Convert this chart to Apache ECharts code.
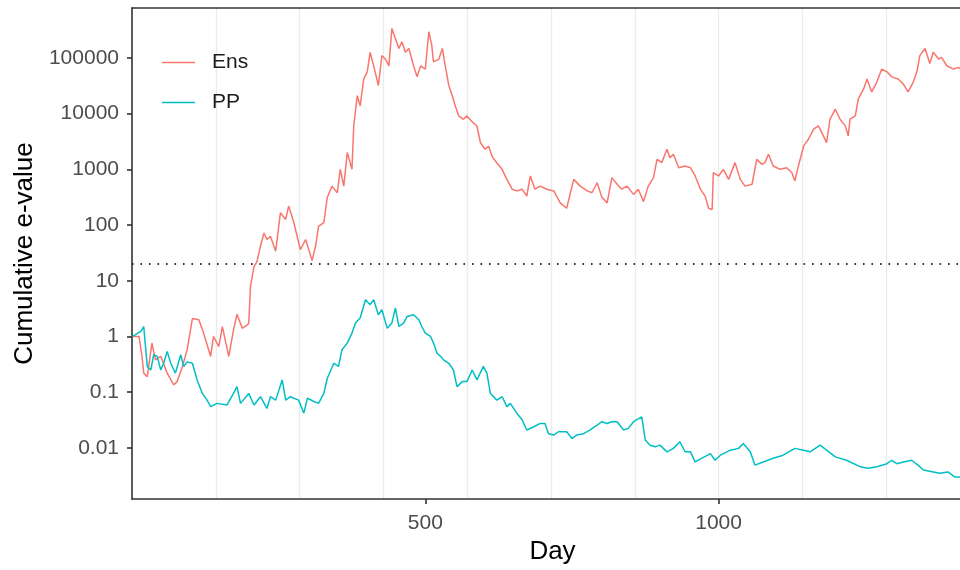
<!DOCTYPE html>
<html>
<head>
<meta charset="utf-8">
<script src="https://cdn.jsdelivr.net/npm/echarts@6/dist/echarts.min.js"></script>
<style>
html,body{margin:0;padding:0;background:#fff;}
#chart{width:960px;height:570px;}
</style>
</head>
<body>
<div id="chart"></div>
<script>
// ---- data ----
const seriesNames = ['Ens', 'PP'];

const ensDays = [1,12,17,20,26,34,40,49,60,71,77,86,94,103,114,122,134,139,148,154,165,173,179,188,199,202,208,213,219,225,230,236,245,253,262,267,276,287,296,307,313,318,327,333,341,350,355,361,367,375,378,384,389,395,401,406,412,420,426,432,438,443,449,455,460,466,472,480,486,492,500,506,511,514,523,529,534,540,546,551,557,565,571,580,588,594,602,608,614,622,631,639,648,656,665,673,679,687,696,707,719,730,741,753,764,776,784,793,801,810,818,827,835,844,855,863,872,880,889,895,903,912,917,923,932,943,952,960,969,977,983,989,991,1000,1008,1017,1028,1037,1045,1057,1065,1074,1079,1085,1093,1105,1116,1125,1130,1136,1145,1153,1162,1170,1176,1184,1190,1199,1207,1216,1221,1224,1233,1238,1247,1253,1261,1270,1278,1287,1295,1306,1315,1323,1332,1338,1343,1352,1360,1366,1375,1380,1389,1400,1409,1412];
const ensValues = [1,1,0.44,0.22,0.19,0.76,0.38,0.44,0.22,0.135,0.155,0.29,0.58,2.1,2.0,1.15,0.44,1.0,0.66,1.5,0.44,1.3,2.5,1.4,1.7,8,18,22,42,72,55,63,34,166,126,219,110,36,55,23,42,95,110,316,500,380,1000,500,2000,1000,6000,21000,13800,42000,56000,126000,72000,32000,110000,95000,72000,339000,224000,148000,195000,126000,148000,72000,46000,72000,63000,295000,170000,85000,95000,148000,72000,32000,21000,13800,9100,7900,9100,7100,6000,3000,2300,2600,1700,1300,1000,660,440,410,440,330,760,440,500,440,410,250,200,660,500,410,380,575,316,250,710,540,440,500,355,440,263,500,710,1510,1320,2290,1620,1860,1070,1150,1070,760,440,330,200,190,870,760,1000,660,1320,660,500,540,1510,1230,1320,1860,1150,1000,1070,870,620,1150,2630,3470,5250,6030,4570,3020,7940,12000,7940,6030,3980,7940,9120,18200,27500,41700,24500,37200,63100,56200,45700,41700,33900,24500,37200,56200,110000,148000,79400,126000,95500,102000,72400,63100,67600,63100];

const ppDays = [1,15,20,26,32,37,43,49,54,60,66,74,83,88,94,103,111,120,128,134,145,162,173,179,185,199,208,219,230,236,245,256,262,270,284,293,299,310,318,327,333,344,352,358,367,375,381,389,398,406,412,420,426,435,443,449,455,463,469,480,489,494,500,509,514,520,526,531,540,548,554,563,571,580,588,599,605,611,622,631,639,645,656,665,673,685,696,704,710,719,727,741,750,758,770,781,793,801,810,818,827,838,846,855,869,875,883,892,900,912,923,934,943,952,960,971,986,994,1003,1020,1034,1042,1054,1062,1076,1093,1110,1130,1145,1156,1173,1184,1199,1218,1241,1255,1270,1287,1295,1304,1315,1329,1340,1349,1366,1377,1391,1403,1412];
const ppValues = [1,1.23,1.5,0.29,0.25,0.47,0.44,0.25,0.33,0.54,0.33,0.22,0.47,0.29,0.35,0.33,0.166,0.095,0.072,0.055,0.063,0.059,0.095,0.126,0.063,0.095,0.059,0.083,0.051,0.083,0.072,0.166,0.072,0.083,0.072,0.042,0.078,0.068,0.063,0.095,0.178,0.33,0.29,0.58,0.76,1.15,1.74,2.14,4.57,3.72,4.57,2.45,3.02,1.41,1.74,3.24,1.51,1.74,2.29,2.45,2.0,1.51,1.15,1.0,0.76,0.5,0.44,0.38,0.33,0.25,0.126,0.155,0.155,0.25,0.166,0.29,0.22,0.095,0.072,0.083,0.055,0.063,0.042,0.032,0.021,0.024,0.0275,0.0275,0.018,0.017,0.0195,0.0195,0.0148,0.017,0.018,0.021,0.0257,0.0295,0.0275,0.0295,0.0295,0.021,0.0224,0.0295,0.036,0.0138,0.0112,0.0105,0.0112,0.0085,0.0098,0.0129,0.0085,0.0085,0.0056,0.0065,0.0079,0.006,0.0074,0.0091,0.0098,0.012,0.0085,0.0049,0.0056,0.0065,0.0074,0.0098,0.0091,0.0085,0.0112,0.0091,0.0069,0.006,0.0046,0.0043,0.0046,0.0052,0.006,0.0052,0.0056,0.006,0.0049,0.004,0.0037,0.0035,0.0037,0.003,0.003];

const xTickValues = [500, 1000];
const yTickValues = [0.01, 0.1, 1, 10, 100, 1000, 10000, 100000];
const threshold = 20;
const xMin = 0, xMax = 1411.5;
const yMin = 0.00121, yMax = 787000;
const gridStep = 1000 / 7;

// ---- chart ----
const FONT = "'Liberation Sans', Arial, sans-serif";
const chart = echarts.init(document.getElementById('chart'), null, {renderer: 'canvas'});
const zip = (xs, ys) => xs.map((x, i) => [x, ys[i]]);

chart.setOption({
  animation: false,
  backgroundColor: '#ffffff',
  textStyle: {fontFamily: FONT},
  grid: {left: 132, top: 8, right: 0, bottom: 69, containLabel: false},
  legend: {
    orient: 'vertical',
    left: 157,
    top: 47,
    icon: 'rect',
    itemWidth: 33,
    itemHeight: 1.6,
    itemGap: 19,
    data: seriesNames,
    textStyle: {fontFamily: FONT, fontSize: 21, color: '#1a1a1a', padding: [0, 0, 0, 12]}
  },
  xAxis: [
    {
      type: 'value', min: xMin, max: xMax, position: 'bottom',
      name: 'Day', nameLocation: 'middle', nameGap: 40,
      nameTextStyle: {fontFamily: FONT, fontSize: 26, color: '#000', padding: [0, 0, 0, 13]},
      axisLine: {show: true, onZero: false, lineStyle: {color: '#333333', width: 1.6}},
      axisTick: {show: true, length: 5, customValues: xTickValues, lineStyle: {color: '#333333', width: 1.6}},
      axisLabel: {show: true, customValues: xTickValues, margin: 14, fontFamily: FONT, fontSize: 21, color: '#4d4d4d',
        formatter: v => String(v)},
      splitLine: {show: false}
    },
    {
      type: 'value', min: xMin, max: xMax, interval: gridStep, position: 'top',
      axisLine: {show: true, onZero: false, lineStyle: {color: '#333333', width: 1.6}},
      axisTick: {show: false},
      axisLabel: {show: false},
      splitLine: {show: true, showMinLine: false, showMaxLine: false, lineStyle: {color: '#ebebeb', width: 1.3}}
    }
  ],
  yAxis: {
    type: 'log', logBase: 10, min: yMin, max: yMax,
    name: 'Cumulative e-value', nameLocation: 'middle', nameGap: 92,
    nameTextStyle: {fontFamily: FONT, fontSize: 26, color: '#000'},
    axisLine: {show: true, onZero: false, lineStyle: {color: '#333333', width: 1.6}},
    axisTick: {show: true, length: 5, customValues: yTickValues, lineStyle: {color: '#333333', width: 1.6}},
    axisLabel: {show: true, customValues: yTickValues, margin: 13, fontFamily: FONT, fontSize: 21, color: '#4d4d4d',
      formatter: v => String(v)},
    splitLine: {show: false}
  },
  series: [
    {
      name: 'Ens', type: 'line', xAxisIndex: 0, yAxisIndex: 0,
      data: zip(ensDays, ensValues),
      symbol: 'none', showSymbol: false,
      lineStyle: {color: '#F8766D', width: 1.5},
      itemStyle: {color: '#F8766D'},
      silent: true,
      markLine: {
        silent: true, symbol: ['none', 'none'], label: {show: false},
        lineStyle: {color: '#333333', type: [1.6, 6.9], width: 1.8},
        data: [{yAxis: threshold}]
      }
    },
    {
      name: 'PP', type: 'line', xAxisIndex: 0, yAxisIndex: 0,
      data: zip(ppDays, ppValues),
      symbol: 'none', showSymbol: false,
      lineStyle: {color: '#00BFC4', width: 1.5},
      itemStyle: {color: '#00BFC4'},
      silent: true
    }
  ]
});
</script>
</body>
</html>
